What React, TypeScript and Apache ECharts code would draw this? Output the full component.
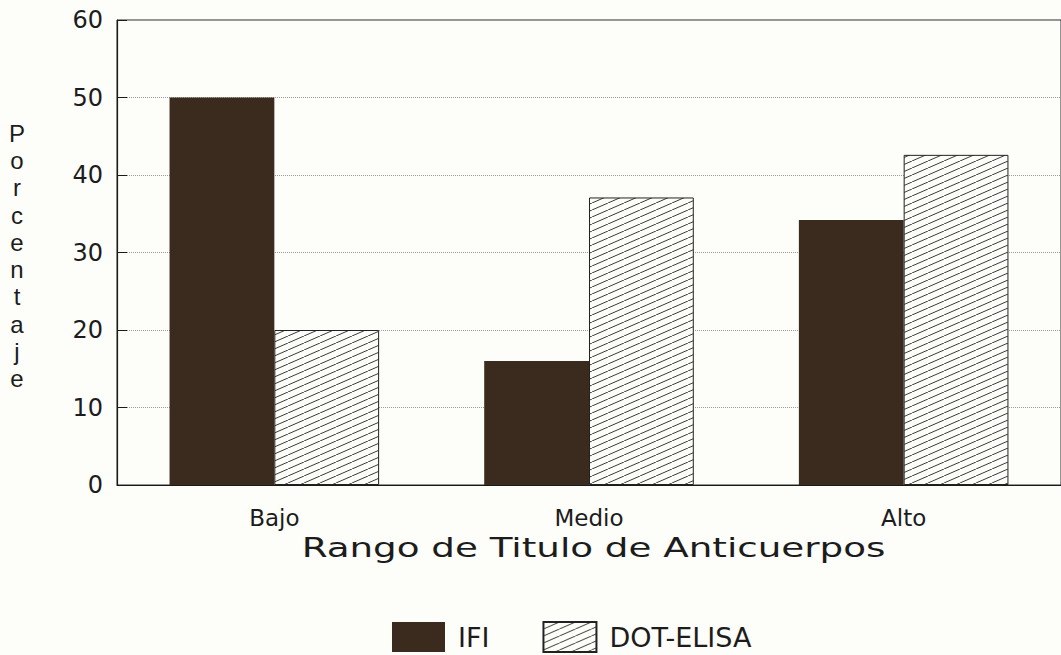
import React, { useEffect, useRef } from "react";
import * as echarts from "echarts";

const categories = ["Bajo", "Medio", "Alto"];
const ifiValues = [50, 16.0, 34.2];
const dotElisaValues = [20.0, 37.1, 42.6];
const seriesNames = ["IFI", "DOT-ELISA"];
const yTicks = { min: 0, max: 60, interval: 10 };
const xTitle = "Rango de Titulo de Anticuerpos";
const yTitle = "Porcentaje";

const hatchSvg =
  "<svg xmlns='http://www.w3.org/2000/svg' width='16' height='7'>" +
  "<rect width='16' height='7' fill='#fdfdf9'/>" +
  "<path d='M-2,7.875 L18,-0.875' stroke='#3a3a3a' stroke-width='1'/>" +
  "</svg>";
const hatchUrl = "data:image/svg+xml;charset=utf-8," + encodeURIComponent(hatchSvg);

export default function App() {
  const ref = useRef<HTMLDivElement>(null);
  useEffect(() => {
    if (!ref.current) return;
    const chart = echarts.init(ref.current, undefined, { renderer: "svg" });
    const hatch: any = {
      image: hatchUrl,
      repeat: "repeat",
      imageWidth: 16,
      imageHeight: 7,
    };
    const textColor = "#1c1c1c";
    const font = "'DejaVu Sans', 'Liberation Sans', Arial";
    chart.setOption({
      animation: false,
      backgroundColor: "#fdfdf9",
      grid: {
        left: 117,
        top: 20,
        width: 946.5,
        height: 465,
        show: true,
        borderColor: "#2a2a2a",
        borderWidth: 1,
        backgroundColor: "transparent",
      },
      legend: {
        left: 392,
        top: 621,
        padding: 0,
        itemWidth: 53,
        itemHeight: 30,
        itemGap: 53,
        icon: "rect",
        data: seriesNames,
        textStyle: {
          fontFamily: font,
          fontSize: 27,
          lineHeight: 30,
          color: textColor,
          padding: [0, 0, 0, 8],
        },
      },
      xAxis: {
        type: "category",
        data: categories,
        axisLine: { show: true, lineStyle: { color: "#1a1a1a", width: 1.2 } },
        axisTick: { show: false },
        axisLabel: {
          margin: 21,
          fontFamily: font,
          fontSize: 23,
          color: textColor,
        },
        splitLine: { show: false },
      },
      yAxis: {
        type: "value",
        min: yTicks.min,
        max: yTicks.max,
        interval: yTicks.interval,
        axisLine: { show: true, lineStyle: { color: "#1a1a1a", width: 1.2 } },
        axisTick: { show: true, inside: true, length: 10, lineStyle: { color: "#1a1a1a" } },
        axisLabel: {
          margin: 14,
          fontFamily: font,
          fontSize: 24,
          color: textColor,
        },
        splitLine: {
          show: true,
          lineStyle: { color: "#9a9a9a", type: "dotted", width: 1 },
        },
      },
      series: [
        {
          name: seriesNames[0],
          type: "bar",
          data: ifiValues,
          barGap: "0%",
          barCategoryGap: "33.4%",
          itemStyle: { color: "#3b2a1e" },
        },
        {
          name: seriesNames[1],
          type: "bar",
          data: dotElisaValues,
          barGap: "0%",
          barCategoryGap: "33.4%",
          itemStyle: { color: hatch, borderColor: "#222", borderWidth: 1 },
        },
      ],
      graphic: [
        {
          type: "text",
          x: 593.5,
          y: 548,
          scaleX: 1.38,
          style: {
            text: xTitle,
            x: 0,
            y: 0,
            align: "center",
            verticalAlign: "middle",
            fontFamily: font,
            fontSize: 27,
            fill: textColor,
          },
        },
        {
          type: "text",
          x: 17,
          y: 256,
          style: {
            text: yTitle.split("").join("\n"),
            align: "center",
            verticalAlign: "middle",
            lineHeight: 27.3,
            fontFamily: "'Liberation Sans', Arial",
            fontSize: 24,
            fill: textColor,
          },
        },
      ],
    });
    return () => chart.dispose();
  }, []);
  return (
    <div
      ref={ref}
      style={{ position: "absolute", left: 0, top: 0, width: 1061, height: 655 }}
    />
  );
}
